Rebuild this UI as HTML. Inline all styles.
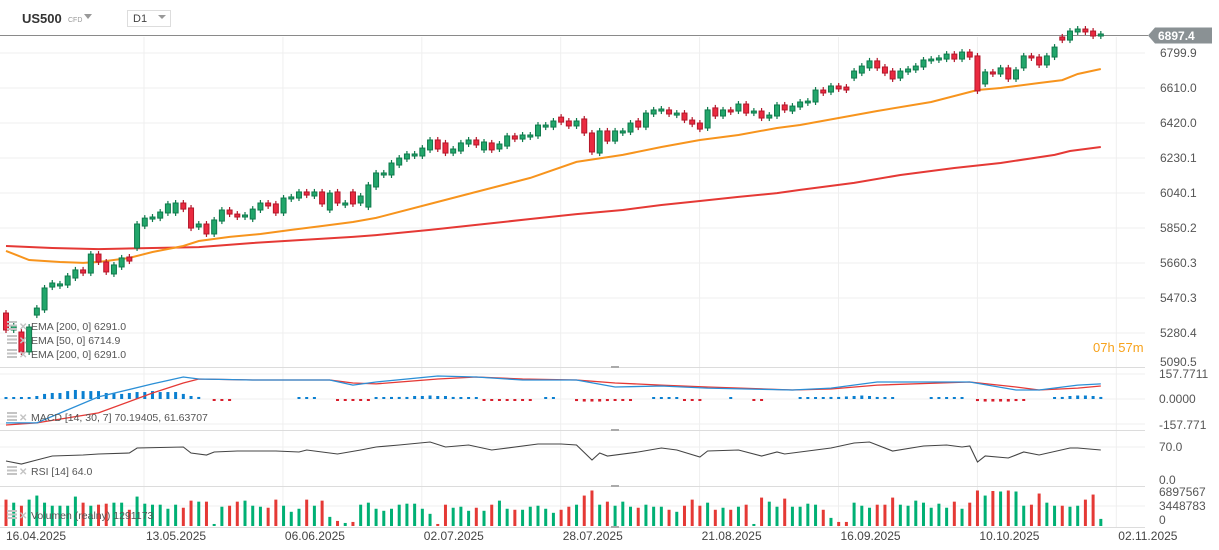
<!DOCTYPE html>
<html><head><meta charset="utf-8">
<style>
html,body{margin:0;padding:0;background:#fff;}
body{width:1219px;height:550px;overflow:hidden;position:relative;font-family:"Liberation Sans",sans-serif;}
svg{position:absolute;left:0;top:0;}
text{font-family:"Liberation Sans",sans-serif;}
</style></head>
<body>
<svg id="chart" width="1219" height="550" viewBox="0 0 1219 550" xmlns="http://www.w3.org/2000/svg">
  <g id="grid"></g>
  <g id="header">
    <text x="22" y="23" font-size="13" font-weight="bold" fill="#333">US500</text>
    <text x="68" y="22" font-size="7" fill="#999">CFD</text>
    <path d="M84 14 L92 14 L88 19 Z" fill="#999"/>
    <rect x="127.5" y="10.5" width="43" height="16" fill="#fff" stroke="#ddd"/>
    <text x="133" y="22" font-size="11" fill="#444">D1</text>
    <path d="M158 15 L166 15 L162 19 Z" fill="#999"/>
  </g>
  <g id="main"></g>
  <g id="macd"></g>
  <g id="rsi"></g>
  <g id="vol"></g>
  <g id="axes"></g>
</svg>
<script>
const opens=[5389,5297,5286,5178,5378,5406,5530,5536,5541,5579,5623,5606,5709,5666,5601,5639,5693,5742,5861,5899,5904,5932,5932,5986,5959,5856,5872,5818,5888,5948,5926,5910,5899,5948,5986,5981,5932,6008,6013,6046,6024,6046,5948,6046,5975,6046,5986,5964,6073,6138,6138,6192,6225,6241,6241,6274,6328,6312,6257,6268,6306,6328,6274,6312,6279,6295,6350,6333,6344,6350,6398,6398,6452,6431,6404,6442,6366,6257,6377,6322,6366,6371,6431,6398,6469,6485,6491,6463,6474,6436,6420,6393,6502,6458,6491,6485,6523,6474,6485,6447,6458,6518,6485,6507,6529,6534,6599,6588,6621,6615,6664,6691,6719,6757,6724,6702,6664,6697,6708,6724,6757,6762,6767,6794,6767,6805,6784,6632,6697,6686,6719,6659,6719,6784,6778,6735,6778,6887,6870,6914,6930,6919,6892];
const closes=[5297,5324,5178,5313,5416,5525,5552,5547,5590,5623,5606,5709,5666,5612,5650,5688,5671,5872,5904,5910,5937,5981,5986,5953,5850,5872,5818,5894,5948,5926,5910,5921,5953,5986,5970,5932,6013,6019,6046,6029,6046,5981,6040,5986,5986,5981,6024,6084,6149,6149,6203,6230,6252,6252,6284,6328,6279,6257,6279,6312,6328,6301,6317,6274,6306,6350,6333,6355,6355,6409,6409,6431,6425,6404,6431,6366,6263,6377,6322,6377,6377,6420,6398,6474,6491,6496,6469,6474,6436,6414,6387,6491,6458,6491,6480,6523,6474,6485,6447,6463,6518,6491,6512,6534,6539,6599,6583,6621,6605,6599,6702,6729,6757,6719,6691,6659,6702,6713,6729,6762,6767,6773,6794,6767,6805,6778,6594,6697,6686,6719,6659,6708,6784,6773,6735,6784,6832,6870,6919,6930,6914,6892,6903];
const volumes=[5.2,4.6,4.0,5.2,6.0,4.6,4.0,4.0,4.0,5.8,4.6,4.0,4.2,4.4,4.6,4.6,3.2,5.8,4.4,4.2,4.2,3.4,4.2,3.6,5.0,4.8,4.8,0.4,3.8,4.0,4.8,5.0,4.0,3.8,3.6,5.2,4.0,2.8,3.4,5.2,4.0,5.0,1.8,1.0,0.6,0.8,4.2,4.6,3.4,3.0,3.4,4.2,4.4,4.4,3.4,2.4,0.4,4.2,3.6,3.8,3.0,3.6,3.0,4.2,5.0,3.4,3.2,3.2,3.8,4.0,3.4,2.6,3.2,3.8,4.2,6.0,7.0,4.2,4.8,4.0,4.8,3.8,3.6,4.2,3.8,3.8,3.2,2.8,4.0,5.2,4.0,4.6,3.2,3.6,3.2,3.8,4.2,0.4,5.6,4.8,3.8,5.4,3.8,3.8,4.4,4.2,3.2,1.6,0.8,0.8,4.6,4.0,3.6,4.2,4.2,5.6,4.2,4.0,5.0,4.6,3.6,4.4,3.6,4.8,3.4,4.6,7.0,6.0,6.9,6.8,7.0,6.8,4.0,4.2,6.4,4.6,4.0,4.0,3.8,4.0,5.2,6.2,1.4];
const ema50Idx=[0,3,7,10,12,16,19,23,25,29,33,37,41,45,48,55,61,68,74,80,85,90,95,100,103,108,113,120,126,129,134,137,139,142];
const ema50Val=[5726,5677,5666,5661,5666,5688,5720,5753,5780,5802,5818,5840,5861,5883,5905,5981,6046,6122,6209,6247,6290,6328,6355,6393,6409,6447,6485,6534,6599,6610,6637,6653,6686,6713];
const ema200Idx=[0,6,12,19,25,32,38,45,48,55,61,68,74,80,85,90,95,100,103,110,116,123,129,136,138,142];
const ema200Val=[5753,5742,5736,5742,5747,5769,5785,5802,5812,5840,5867,5899,5926,5948,5975,5997,6019,6040,6057,6095,6138,6176,6203,6247,6268,6290];
const macdIdx=[0,4,12,19,23,25,32,42,45,48,56,61,67,74,79,85,91,102,107,113,125,131,134,139,142];
const macdVal=[-151,-151,13,95,139,126,120,120,88,107,145,139,120,120,76,82,69,57,69,107,107,57,57,88,95];
const signalVal=[-164,-151,-88,38,101,126,120,120,101,95,126,139,126,120,101,88,76,57,63,88,107,76,57,69,82];
const histVal=[6,6,3,3,19,32,38,38,50,57,50,50,50,38,38,32,38,44,44,50,44,44,44,32,19,13,0,-6,-6,-6,0,0,0,0,0,0,0,0,3,3,3,0,0,-6,-6,-9,-9,-6,3,6,13,13,13,19,19,22,19,19,13,6,3,3,-6,-6,-6,-6,-6,-6,-6,0,3,3,0,0,-13,-16,-16,-16,-13,-9,-6,-6,0,0,6,9,6,6,-9,-9,-6,0,0,0,3,0,0,-6,-6,0,0,0,0,3,6,9,9,13,13,16,19,22,19,13,6,3,0,0,0,0,3,3,3,3,3,0,-13,-16,-16,-16,-16,-13,-6,0,0,0,6,13,19,22,22,19,13];
const rsiIdx=[0,2,4,6,10,12,16,17,23,24,26,27,30,35,38,39,41,43,46,48,51,55,57,60,63,69,72,74,76,77,78,82,85,87,90,91,95,98,100,101,104,107,110,112,115,119,122,124,125,126,127,130,132,134,138,139,142];
const rsiVal=[40.3,33.9,42.4,50.9,53.0,55.1,57.2,67.8,70.0,57.2,53.0,59.4,61.5,61.5,59.4,63.6,59.4,55.1,63.6,70.0,74.2,80.6,70.0,74.2,63.6,76.3,76.3,74.2,42.4,57.2,50.9,59.4,67.8,63.6,48.8,61.5,63.6,50.9,59.4,55.1,61.5,67.8,78.4,80.6,61.5,72.1,74.2,70.0,72.1,38.2,50.9,46.6,59.4,53.0,67.8,67.8,63.6];
const priceTicks=[6799.9,6610.0,6420.0,6230.1,6040.1,5850.2,5660.3,5470.3,5280.4];
const dateLabels=["16.04.2025","13.05.2025","06.06.2025","02.07.2025","28.07.2025","21.08.2025","16.09.2025","10.10.2025","02.11.2025"];

const NS="http://www.w3.org/2000/svg";
function mk(parent,tag,attrs,txt){const e=document.createElementNS(NS,tag);for(const k in attrs)e.setAttribute(k,attrs[k]);if(txt!==undefined)e.textContent=txt;parent.appendChild(e);return e;}
const X0=6, DX=7.71, PW=1145;
const xOf=i=>X0+i*DX;
const yP=p=>53+(6799.9-p)/5.4257;
const yM=v=>399-v/6.31;
const yR=v=>480-v*33/70;
const yV=v=>526-v*35/6.9;

const grid=document.getElementById('grid');
[53,88,123,158,193,228,263,298,333].forEach(y=>{const l=mk(grid,'line',{x1:0,x2:PW,y1:y,y2:y,stroke:'#efefef','stroke-width':1});

});
[374,399,424,447,506].forEach(y=>{const l=mk(grid,'line',{x1:0,x2:PW,y1:y,y2:y,stroke:'#efefef','stroke-width':1});

});
dateLabels.forEach((d,k)=>{if(k===0)return;const x=144+(k-1)*138.9;const l=mk(grid,'line',{x1:x,x2:x,y1:37,y2:527,stroke:'#efefef','stroke-width':1});

});
[367,430,486,527].forEach(y=>{const l=mk(grid,'line',{x1:0,x2:PW,y1:y+0.5,y2:y+0.5,stroke:'#dcdcdc','stroke-width':1});


const h=mk(grid,'rect',{x:611,y:y-1,width:8,height:2,fill:'#aaa'});

});

const main=document.getElementById('main');
const lp=mk(main,'line',{x1:0,x2:1148,y1:yP(6897.4)+0.5,y2:yP(6897.4)+0.5,stroke:'#8a8a8a','stroke-width':1});


function pathFrom(idx,vals,yf){return idx.map((i,k)=>(k?'L':'M')+xOf(i).toFixed(1)+' '+yf(vals[k]).toFixed(1)).join(' ');}
const e200=mk(main,'path',{d:pathFrom(ema200Idx,ema200Val,yP),fill:'none',stroke:'#e53935','stroke-width':2});


const e50=mk(main,'path',{d:pathFrom(ema50Idx,ema50Val,yP),fill:'none',stroke:'#f7941d','stroke-width':2});


closes.forEach((c,i)=>{const o=opens[i];const up=c>=o;const x=xOf(i);
 const top=yP(Math.max(o,c)),bot=yP(Math.min(o,c));
 const g=mk(main,'g',{});
 
 
 const col=up?'#0f7a4c':'#b3172a';
 mk(g,'line',{x1:x,x2:x,y1:top-3,y2:bot+3,stroke:col,'stroke-width':1.2});
 mk(g,'rect',{x:x-2.5,y:top,width:5,height:Math.max(bot-top,1.5),fill:up?'#22a66b':'#ea2a40',stroke:col,'stroke-width':1});
});
function legendIcon(g,y){
 mk(g,'rect',{x:7,y:y-8,width:10,height:2,fill:'#c4c4c4'});mk(g,'rect',{x:7,y:y-4.5,width:10,height:2,fill:'#c4c4c4'});mk(g,'rect',{x:7,y:y-1,width:10,height:2,fill:'#c4c4c4'});
 mk(g,'text',{x:19,y:y+1,'font-size':10,fill:'#c4c4c4','font-weight':'bold'},'✕');}
const legs=[["EMA [200, 0] 6291.0",329],["EMA [50, 0] 6714.9",343],["EMA [200, 0] 6291.0",357]];
legs.forEach(l=>{const g=mk(main,'g',{});
 
 
 legendIcon(g,l[1]);
 mk(g,'text',{x:31,y:l[1]+1,'font-size':10.5,fill:'#555'},l[0]);});
const cd=mk(main,'text',{x:1093,y:352,'font-size':13,fill:'#f7a21b'},'07h 57m');



const macd=document.getElementById('macd');
histVal.forEach((v,i)=>{if(v===0)return;const x=xOf(i);let h=Math.max(Math.abs(v)/6.31,2);
 const r=mk(macd,'rect',{x:x-1.5,y:v>0?399-h:399,width:3,height:h,fill:v>0?'#0a7fd0':'#d81e2c'});
 
 });
const ms=mk(macd,'path',{d:pathFrom(macdIdx,signalVal,yM),fill:'none',stroke:'#e53935','stroke-width':1.3});


const ml=mk(macd,'path',{d:pathFrom(macdIdx,macdVal,yM),fill:'none',stroke:'#2b8fd6','stroke-width':1.3});


function legend(parent,y,txt,name){const g=mk(parent,'g',{});
 
 
 legendIcon(g,y);
 mk(g,'text',{x:31,y:y+1,'font-size':10.5,fill:'#555'},txt);}
legend(macd,420,'MACD [14, 30, 7] 70.19405,  61.63707','macd-legend');

const rsi=document.getElementById('rsi');
const rl=mk(rsi,'path',{d:pathFrom(rsiIdx,rsiVal,yR),fill:'none',stroke:'#444','stroke-width':1.1});


legend(rsi,474,'RSI [14] 64.0','rsi-legend');

const vol=document.getElementById('vol');
volumes.forEach((v,i)=>{const x=xOf(i);const up=closes[i]>=opens[i];
 const r=mk(vol,'rect',{x:x-1.5,y:yV(v),width:3,height:526-yV(v),fill:up?'#00b074':'#e53935'});
 
 });
legend(vol,518,'Volumen (realny) 1291173','volume-legend');

const axes=document.getElementById('axes');
priceTicks.forEach(p=>{const t=mk(axes,'text',{x:1160,y:yP(p)+4,'font-size':12,fill:'#555'},p.toFixed(1));
 
 });
const lt=mk(axes,'text',{x:1160,y:366,'font-size':12,fill:'#555'},'5090.5');


const pl=mk(axes,'path',{d:'M1148 35.5 L1155 27.5 L1212 27.5 L1212 43.5 L1155 43.5 Z',fill:'#8a9194'});


const plt=mk(axes,'text',{x:1158,y:40,'font-size':12,'font-weight':'bold',fill:'#fff'},'6897.4');


[["157.7711",378],["0.0000",403],["-157.771",429],["70.0",451],["0.0",484],["6897567",496],["3448783",510],["0",524]].forEach(a=>{
 const t=mk(axes,'text',{x:1159,y:a[1],'font-size':12,fill:'#555'},a[0]);
 
 });
dateLabels.forEach((d,k)=>{const x=k===0?6:144+(k-1)*138.9+2;
 const t=mk(axes,'text',{x:x,y:540,'font-size':12,fill:'#444'},d);
 
 });
</script>
</body></html>
